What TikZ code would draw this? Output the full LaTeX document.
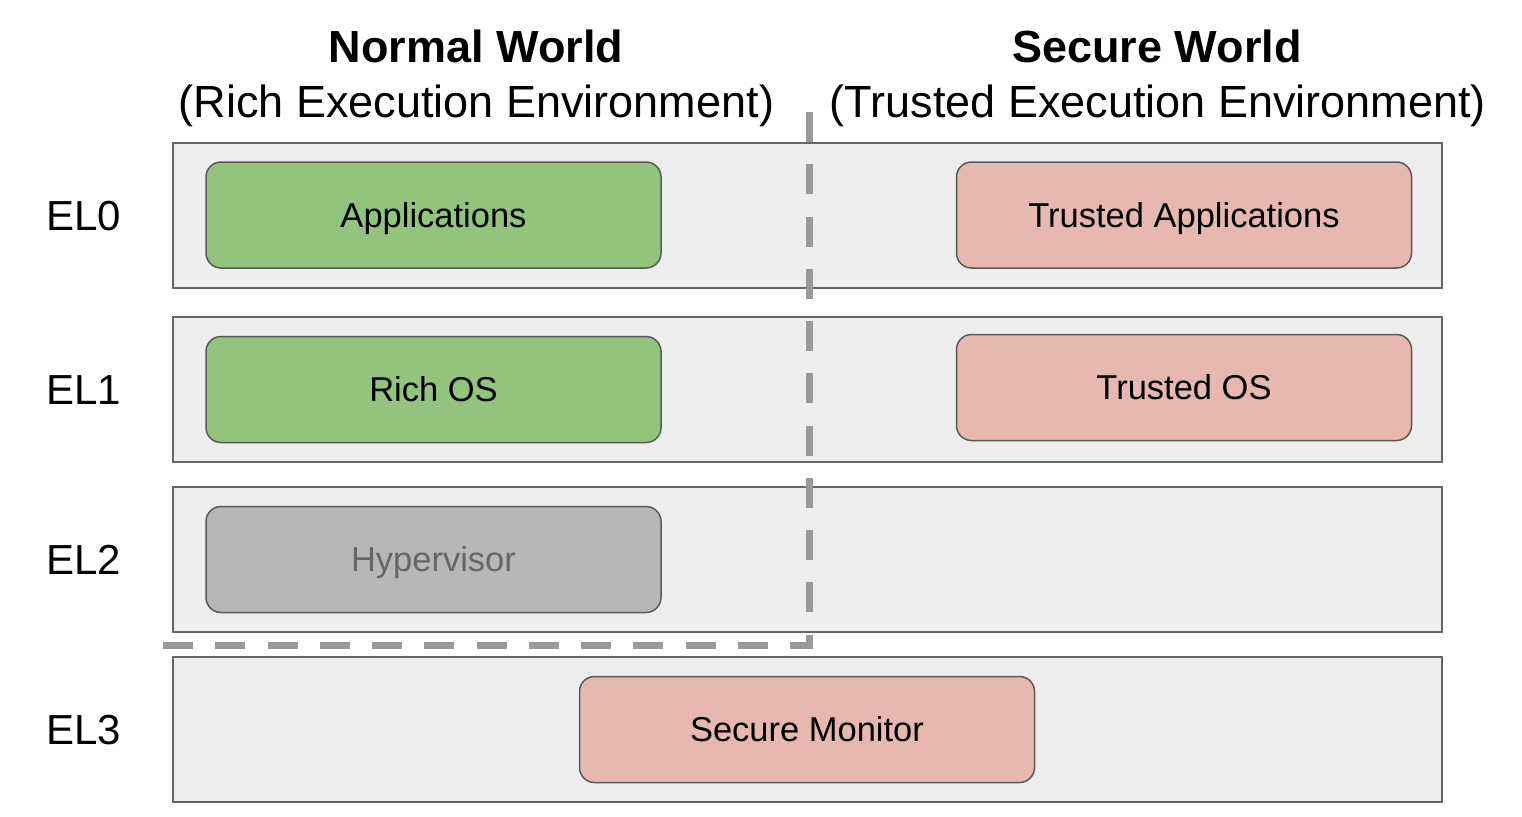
\documentclass[tikz,border=0pt]{standalone}
\usepackage{fontspec}
\setmainfont{Liberation Sans}
\definecolor{rowfill}{HTML}{EEEEEE}
\definecolor{rowline}{HTML}{666666}
\definecolor{boxline}{HTML}{595959}
\definecolor{greenfill}{HTML}{93C47D}
\definecolor{pinkfill}{HTML}{E6B8AF}
\definecolor{grayfill}{HTML}{B7B7B7}
\definecolor{hypertext}{HTML}{666666}
\definecolor{dashcol}{HTML}{999999}
\begin{document}
\begin{tikzpicture}[x=1pt,y=-1pt,
  rowbox/.style={draw=rowline,fill=rowfill,line width=2pt,minimum width=1269pt,minimum height=145pt,inner sep=0pt,outer sep=0pt},
  layerbox/.style={draw=boxline,line width=1.5pt,rounded corners=15pt,minimum width=455pt,minimum height=106pt,inner sep=0pt,outer sep=0pt,
    font=\fontsize{34.5}{40}\selectfont,text height=24.7pt,text depth=0pt},
  ellabel/.style={anchor=base west,inner sep=0pt,font=\fontsize{42}{50}\selectfont},
  headbold/.style={anchor=base,inner sep=0pt,font=\fontsize{45}{52}\selectfont\bfseries},
  headreg/.style={anchor=base,inner sep=0pt,font=\fontsize{45}{52}\selectfont},
  worldline/.style={draw=dashcol,line width=7pt,dash pattern=on 30pt off 22.25pt}
]
\useasboundingbox (0,0) rectangle (1522,816);
% headers
\node[headbold] (nw) at (476,63) {Normal World};
\node[headreg] (ree) at (476.5,117) {(Rich Execution Environment)};
\node[headbold] (sw) at (1157,63) {Secure World};
\node[headreg] (tee) at (1158,117) {(Trusted Execution Environment)};
% rows
\node[rowbox] (row0) at (807.5,215.5) {};
\node[rowbox] (row1) at (807.5,389.5) {};
\node[rowbox] (row2) at (807.5,559.5) {};
\node[rowbox] (row3) at (807.5,729.5) {};
% EL labels
\node[ellabel] (el0) at (46,230.5) {EL0};
\node[ellabel] (el1) at (46,404.5) {EL1};
\node[ellabel] (el2) at (46,574.5) {EL2};
\node[ellabel] (el3) at (46,744.5) {EL3};
% layer boxes
\node[layerbox,fill=greenfill] (apps) at (433.5,215) {Applications};
\node[layerbox,fill=greenfill] (richos) at (433.5,389.5) {Rich OS};
\node[layerbox,fill=grayfill,text=hypertext] (hyp) at (433.5,559.5) {Hypervisor};
\node[layerbox,fill=pinkfill] (tapps) at (1184,215) {Trusted Applications};
\node[layerbox,fill=pinkfill] (tos) at (1184,387.5) {Trusted OS};
\node[layerbox,fill=pinkfill] (smon) at (807,729.5) {Secure Monitor};
% world separation
\coordinate (dtop) at (809,112);
\coordinate (dcorner) at (809,645.5);
\coordinate (dend) at (163,645.5);
\draw[worldline] (dtop) -- (dcorner) -- (dend);
\end{tikzpicture}
\end{document}
